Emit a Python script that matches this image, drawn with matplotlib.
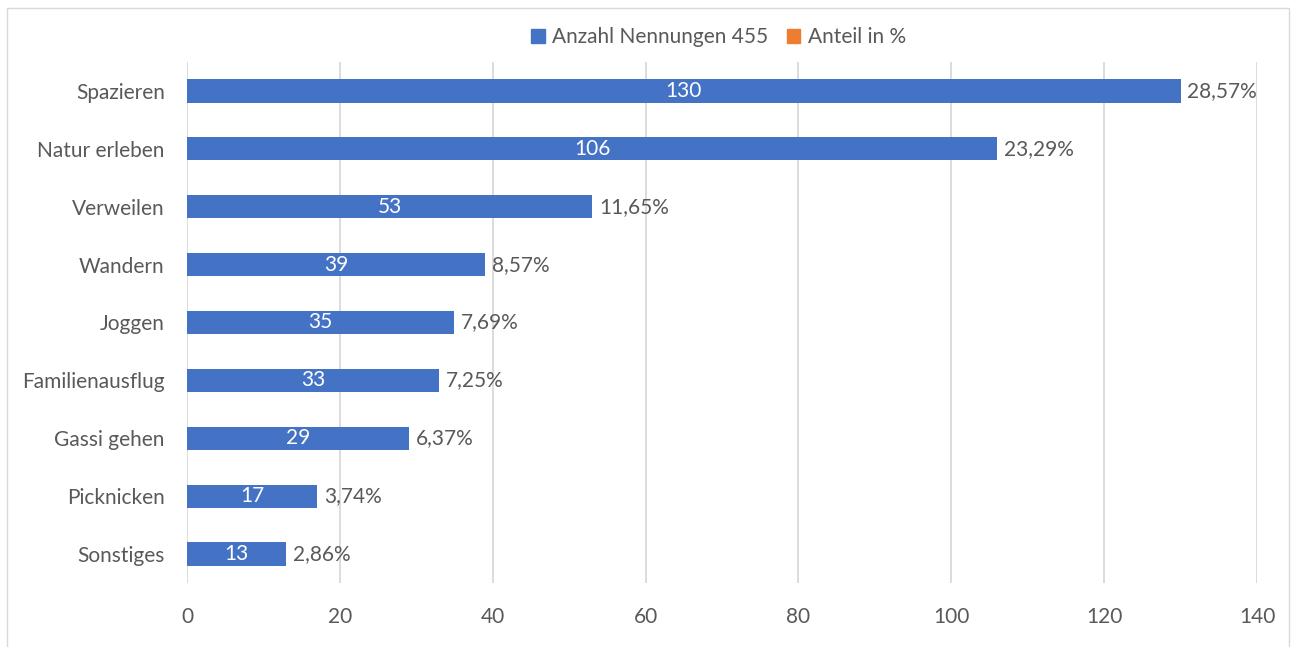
import matplotlib.pyplot as plt
from matplotlib.patches import Patch, Rectangle

plt.rcParams['font.family'] = ['Lato', 'DejaVu Sans']

# Daten
kategorien = ['Spazieren', 'Natur erleben', 'Verweilen', 'Wandern', 'Joggen',
              'Familienausflug', 'Gassi gehen', 'Picknicken', 'Sonstiges']
anzahl = [130, 106, 53, 39, 35, 33, 29, 17, 13]
anteil = ['28,57%', '23,29%', '11,65%', '8,57%', '7,69%', '7,25%', '6,37%', '3,74%', '2,86%']
x_ticks = [0, 20, 40, 60, 80, 100, 120, 140]

blau = '#4472C4'
orange = '#ED7D31'
grau_text = '#595959'
fs = 15

fig = plt.figure(figsize=(12.92, 6.47), dpi=100)
ax = fig.add_axes([0.1447, 0.0989, 0.8282, 0.8053])

pos = list(range(len(kategorien)))
bars = ax.barh(pos, anzahl, height=0.4, color=blau, zorder=3)

for b, n, p in zip(bars, anzahl, anteil):
    y = b.get_y() + b.get_height() / 2
    ax.text(n / 2, y, str(n), color='white', ha='center', va='center', fontsize=fs, zorder=4)
    ax.text(n + 0.9, y, p, color=grau_text, ha='left', va='center', fontsize=fs, zorder=4)

ax.set_ylim(len(kategorien) - 0.5, -0.5)
ax.set_xlim(0, 140)
ax.set_yticks(pos)
ax.set_yticklabels(kategorien, fontsize=fs, color=grau_text)
ax.set_xticks(x_ticks)
ax.set_xticklabels([str(t) for t in x_ticks], fontsize=fs, color=grau_text)
ax.tick_params(length=0)
ax.tick_params(axis='x', pad=17)
ax.tick_params(axis='y', pad=16)
ax.grid(axis='x', color='#D9D9D9', linewidth=1.3, zorder=0)
for s in ax.spines.values():
    s.set_visible(False)

# Legende
handles = [Patch(color=blau, label='Anzahl Nennungen 455'),
           Patch(color=orange, label='Anteil in %')]
fig.legend(handles=handles, loc='center', bbox_to_anchor=(0.556, 0.943), ncol=2,
           frameon=False, fontsize=fs, handlelength=0.65, handleheight=0.65,
           handletextpad=0.35, columnspacing=0.9, labelcolor=grau_text)

# Rahmen
fig.patches.append(Rectangle((7 / 1292, -0.05), 1282 / 1292, 1.05 - 8 / 647,
                             transform=fig.transFigure, fill=False,
                             edgecolor='#D9D9D9', linewidth=1))

fig.savefig('out.png', dpi=100, facecolor='white')
